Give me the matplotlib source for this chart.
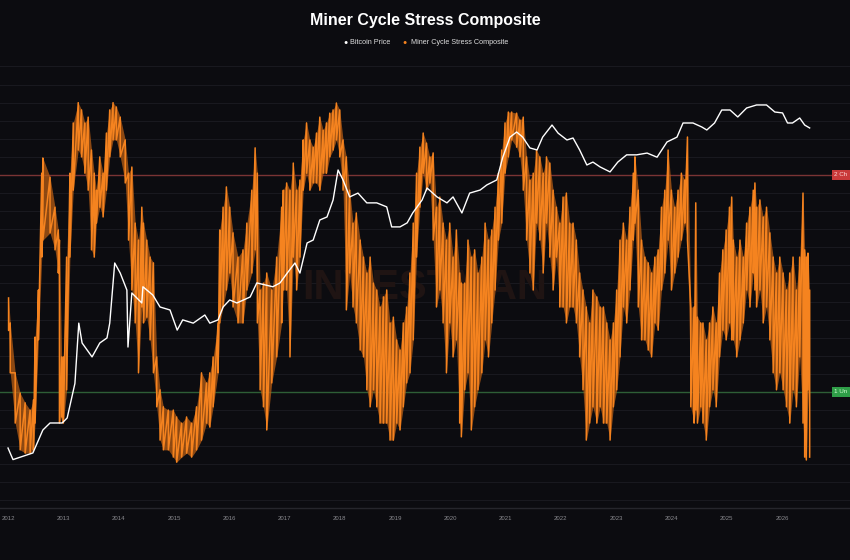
import matplotlib.pyplot as plt
import numpy as np

plt.rcParams['font.family'] = ['Liberation Sans', 'DejaVu Sans']

# 综合指标 (0-100)，每个采样点读取上沿和下沿
comp_t = [2012.01, 2012.04, 2012.13, 2012.22, 2012.31, 2012.40, 2012.46, 2012.49, 2012.55, 2012.61,
          2012.63, 2012.76, 2012.85, 2012.91, 2012.93, 2012.97, 2013.00, 2013.06, 2013.12, 2013.18,
          2013.27, 2013.33, 2013.39, 2013.45, 2013.51, 2013.56, 2013.60, 2013.66, 2013.72, 2013.78,
          2013.84, 2013.90, 2013.96, 2014.03, 2014.12, 2014.18, 2014.24, 2014.30, 2014.36, 2014.42,
          2014.45, 2014.51, 2014.57, 2014.63, 2014.69, 2014.75, 2014.81, 2014.90, 2014.99, 2015.05,
          2015.14, 2015.23, 2015.32, 2015.41, 2015.50, 2015.59, 2015.65, 2015.71, 2015.80, 2015.83,
          2015.89, 2015.95, 2016.01, 2016.07, 2016.16, 2016.25, 2016.32, 2016.41, 2016.47, 2016.51,
          2016.56, 2016.62, 2016.68, 2016.77, 2016.86, 2016.95, 2016.98, 2017.04, 2017.10, 2017.16,
          2017.22, 2017.28, 2017.34, 2017.40, 2017.46, 2017.52, 2017.58, 2017.64, 2017.70, 2017.76,
          2017.82, 2017.88, 2017.94, 2018.00, 2018.06, 2018.12, 2018.18, 2018.24, 2018.30, 2018.37,
          2018.43, 2018.49, 2018.55, 2018.61, 2018.67, 2018.73, 2018.79, 2018.85, 2018.91, 2018.97,
          2019.03, 2019.09, 2019.15, 2019.21, 2019.27, 2019.33, 2019.39, 2019.45, 2019.51, 2019.57,
          2019.63, 2019.69, 2019.75, 2019.81, 2019.87, 2019.93, 2019.99, 2020.05, 2020.11, 2020.17,
          2020.20, 2020.26, 2020.32, 2020.38, 2020.44, 2020.50, 2020.57, 2020.63, 2020.69, 2020.75,
          2020.81, 2020.87, 2020.93, 2020.99, 2021.05, 2021.11, 2021.20, 2021.26, 2021.32, 2021.38,
          2021.44, 2021.50, 2021.56, 2021.62, 2021.68, 2021.74, 2021.80, 2021.86, 2021.92, 2021.98,
          2022.04, 2022.10, 2022.16, 2022.22, 2022.28, 2022.34, 2022.40, 2022.46, 2022.52, 2022.58,
          2022.65, 2022.71, 2022.77, 2022.83, 2022.89, 2022.95, 2023.01, 2023.07, 2023.13, 2023.19,
          2023.25, 2023.31, 2023.34, 2023.40, 2023.46, 2023.52, 2023.58, 2023.64, 2023.70, 2023.76,
          2023.82, 2023.88, 2023.94, 2024.00, 2024.06, 2024.12, 2024.18, 2024.24, 2024.29, 2024.35,
          2024.41, 2024.44, 2024.47, 2024.53, 2024.57, 2024.63, 2024.69, 2024.75, 2024.81, 2024.87,
          2024.93, 2024.99, 2025.05, 2025.09, 2025.12, 2025.18, 2025.24, 2025.30, 2025.36, 2025.42,
          2025.48, 2025.51, 2025.54, 2025.60, 2025.66, 2025.72, 2025.78, 2025.84, 2025.90, 2025.96,
          2026.02, 2026.08, 2026.14, 2026.20, 2026.26, 2026.32, 2026.38, 2026.41, 2026.44, 2026.47,
          2026.50]
comp_hi = [46, 39.1, 25.3, 19.7, 17, 15, 17.8, 35.2, 48.2, 80.5,
           84.7, 79.4, 71.1, 64.8, 62, 29.7, 29.7, 57.3, 80.5, 94.4,
           100, 98, 94.4, 96, 86.9, 80.5, 75.8, 85, 80.5, 91.6,
           98, 100, 98.8, 96, 89.7, 80.5, 82.2, 66.7, 62, 71.1,
           66.7, 62, 57.3, 55.7, 29.7, 20.6, 15.9, 15, 15, 13.1,
           11.4, 13.1, 11.4, 15.9, 25.3, 22.5, 25.3, 29.7, 39.1, 64.8,
           71.1, 76.7, 71.1, 64, 57.3, 59.3, 66.7, 75.8, 87.5, 80.5,
           48.2, 50.1, 52.9, 48.2, 57.3, 71.1, 75.8, 77.8, 75.8, 83.3,
           75.8, 78.6, 89.7, 94.4, 89.7, 87.7, 91.6, 96, 92.4, 94.4,
           97.1, 98, 99.9, 98, 89.7, 85, 75.8, 66.7, 69.5, 62,
           57.3, 52.9, 57.3, 50.1, 48.2, 43.5, 46.3, 48.2, 39.1, 40.7,
           34.4, 31.6, 39.1, 43.5, 52.9, 66.7, 80.5, 87.7, 91.6, 88.8,
           85, 86.1, 71.1, 73.9, 66.7, 62, 66.7, 57.3, 64.8, 52.9,
           50.1, 50.1, 62, 57.3, 59.3, 52.9, 57.3, 66.7, 62, 64.8,
           71.1, 80.5, 86.9, 94.4, 97.4, 97.4, 97.1, 95.2, 96, 85,
           78.6, 80.5, 86.9, 85, 80.5, 85, 83.3, 75.8, 71.1, 66.7,
           73.9, 75, 66.7, 66.7, 62, 52.9, 48.2, 43.5, 39.1, 48.2,
           46.3, 43.5, 43.5, 39.1, 34.4, 39.1, 48.2, 62, 66.7, 62,
           71.1, 80.5, 85, 75.8, 62, 57.3, 55.7, 52.9, 57.3, 59.3,
           71.1, 75.8, 86.9, 75.8, 71.1, 75.8, 80.5, 78.6, 90.5, 43.5,
           43.5, 72.3, 40.7, 39.1, 39.1, 34.4, 39.1, 43.5, 39.1, 52.9,
           59.3, 64.8, 71.1, 73.9, 62, 57.3, 62, 57.3, 66.7, 71.1,
           75.8, 77.8, 71.1, 73.1, 68.4, 71.1, 64, 57.3, 52.9, 57.3,
           52.9, 48.2, 52.9, 57.3, 48.2, 57.3, 75, 59.3, 57.3, 58.4,
           48.2]
comp_lo = [37, 25.3, 11.4, 4, 3.1, 3.1, 4, 11.4, 34.4, 57.3,
           62, 64, 59.3, 52.9, 11.4, 13.1, 11.4, 20.6, 57.3, 75.8,
           86.9, 85, 80.5, 75.8, 59.3, 57.3, 66.7, 71.1, 68.4, 75.8,
           85, 89.7, 89.7, 85, 77.8, 62, 48.2, 39.1, 25.3, 43.5,
           39.1, 40.7, 34.4, 25.3, 15.9, 6.7, 4, 4, 2, 0.6,
           2, 3.1, 2, 4, 6.7, 11.4, 10.3, 15.9, 25.3, 39.1,
           43.5, 48.2, 52.9, 43.5, 39.1, 39.1, 48.2, 52.9, 59.3, 39.1,
           20.6, 15.9, 9.5, 22.5, 29.7, 39.1, 48.2, 48.2, 29.7, 57.3,
           48.2, 57.3, 75.8, 80.5, 75.8, 77.8, 77.8, 75.8, 80.5, 80.5,
           85, 86.9, 89.7, 85, 75.8, 42.7, 52.9, 43.5, 39.1, 31.6,
           29.7, 20.6, 15.9, 20.6, 15.9, 11.4, 11.4, 11.4, 6.7, 6.7,
           11.4, 9.5, 15.9, 22.5, 25.3, 34.4, 57.3, 71.1, 80.5, 75.8,
           77.8, 62, 43.5, 48.2, 39.1, 25.3, 39.1, 29.7, 34.4, 11.4,
           7.6, 20.6, 25.3, 9.5, 15.9, 20.6, 25.3, 34.4, 29.7, 39.1,
           48.2, 62, 66.7, 80.5, 85, 89.7, 87.7, 85, 75.8, 62,
           52.9, 48.2, 66.7, 62, 52.9, 66.7, 57.3, 48.2, 57.3, 43.5,
           43.5, 39.1, 43.5, 43.5, 39.1, 29.7, 20.6, 6.7, 11.4, 15.9,
           11.4, 15.9, 11.4, 11.4, 6.7, 15.9, 20.6, 29.7, 43.5, 39.1,
           48.2, 62, 66.7, 43.5, 34.4, 34.4, 31.6, 29.7, 39.1, 37.1,
           48.2, 52.9, 62, 48.2, 52.9, 57.3, 62, 66.7, 62, 15.9,
           11.4, 15, 11.4, 15.9, 11.4, 6.7, 15.9, 20.6, 15.9, 29.7,
           37.1, 34.4, 39.1, 34.4, 34.4, 29.7, 34.4, 39.1, 48.2, 43.5,
           52.9, 48.2, 43.5, 48.2, 39.1, 43.5, 34.4, 25.3, 20.6, 25.3,
           20.6, 15.9, 11.4, 20.6, 15.9, 29.7, 11.4, 2, 1.2, 20.6,
           2]

# 比特币价格 (美元)
btc_t = [2012.00, 2012.09, 2012.45, 2012.63, 2012.76, 2012.98, 2013.07, 2013.21, 2013.28, 2013.34,
         2013.52, 2013.66, 2013.79, 2013.84, 2013.93, 2014.03, 2014.15, 2014.17, 2014.24, 2014.42,
         2014.44, 2014.62, 2014.75, 2014.93, 2015.06, 2015.16, 2015.35, 2015.56, 2015.65, 2015.80,
         2015.89, 2016.01, 2016.14, 2016.38, 2016.50, 2016.79, 2016.92, 2017.05, 2017.19, 2017.28,
         2017.41, 2017.52, 2017.64, 2017.77, 2017.88, 2017.97, 2018.06, 2018.18, 2018.33, 2018.49,
         2018.67, 2018.85, 2018.94, 2019.09, 2019.22, 2019.32, 2019.49, 2019.58, 2019.76, 2019.94,
         2020.05, 2020.21, 2020.35, 2020.54, 2020.66, 2020.84, 2020.95, 2021.08, 2021.20, 2021.31,
         2021.44, 2021.57, 2021.67, 2021.84, 2021.95, 2022.11, 2022.22, 2022.34, 2022.47, 2022.58,
         2022.71, 2022.89, 2023.03, 2023.19, 2023.37, 2023.56, 2023.74, 2023.92, 2024.10, 2024.21,
         2024.39, 2024.55, 2024.64, 2024.78, 2024.91, 2025.06, 2025.20, 2025.36, 2025.54, 2025.72,
         2025.87, 2026.01, 2026.10, 2026.19, 2026.32, 2026.41, 2026.50]
btc_price = [5.3, 3.8, 4.6, 8.9, 10.9, 10.9, 12.6, 34, 193, 109,
             73, 109, 126, 193, 1090, 815, 500, 97, 460, 345,
             550, 433, 307, 282, 158, 212, 193, 244, 193, 212,
             307, 376, 345, 410, 614, 550, 614, 815, 1090, 815,
             1940, 2110, 3760, 4100, 6680, 15850, 11900, 7300, 8150, 6150,
             6150, 5480, 3080, 3080, 3460, 4600, 6680, 9440, 7300, 6150,
             7300, 4600, 8150, 8900, 10300, 11900, 22900, 40800, 47300, 40800,
             29900, 28200, 40800, 57800, 45800, 37600, 39800, 28200, 18300, 19900,
             17300, 15000, 19900, 24500, 24500, 25800, 22900, 35500, 40800, 61300,
             61300, 54600, 50100, 61300, 89100, 89100, 72900, 94400, 103000, 103000,
             84100, 81900, 61300, 61300, 70800, 57800, 53100]

year_ticks = list(range(2012, 2027))
hi_line = 80
lo_line = 20

bg = '#0c0c10'
orange = '#f5831f'

fig = plt.figure(figsize=(8.5, 5.6), dpi=100, facecolor=bg)
ax = fig.add_axes([0, 0.0929, 1, 0.8])
ax.set_facecolor(bg)

# 橙色带：半透明填充上下沿之间，再叠加锯齿线做出纹理
ax.fill_between(comp_t, comp_lo, comp_hi, color='#b85d14', alpha=0.75, lw=0, zorder=3)
zz_t = np.column_stack([comp_t, comp_t]).ravel()
zz_v = np.column_stack([comp_hi, comp_lo]).ravel()
ax.plot(zz_t, zz_v, color=orange, lw=1.1, zorder=3)

ax.axhline(hi_line, color='#7a3434', lw=1.0, zorder=2)
ax.axhline(lo_line, color='#2e5e36', lw=1.0, zorder=2)

ax.set_xlim(2011.855, 2027.23)
ax.set_ylim(-12.07, 111.8)
ax.set_yticks(np.arange(-10, 111, 5))
ax.yaxis.grid(True, color='#19191f', lw=0.8)
ax.set_axisbelow(True)
ax.tick_params(axis='y', length=0, labelleft=False)
ax.set_xticks(year_ticks)
ax.set_xticklabels([str(y) for y in year_ticks])
ax.tick_params(axis='x', length=0, colors='#8a8a8f', labelsize=4.3, pad=6)
for s in ['top', 'left', 'right']:
    ax.spines[s].set_visible(False)
ax.spines['bottom'].set_color('#26262c')
ax.spines['bottom'].set_linewidth(1.0)

# 水印
ax.text(0.5, 0.49, 'INVESTMAN', transform=ax.transAxes, ha='center', va='center',
        fontsize=30, fontweight='bold', color='#1f1413', zorder=1)

# 右侧阈值标签
ax.text(0.997, hi_line, '2 Ch', transform=ax.get_yaxis_transform(), fontsize=4.5,
        color='#ffd6d6', va='center', ha='right',
        bbox=dict(boxstyle='square,pad=0.35', fc='#c93a3a', ec='none'), clip_on=False)
ax.text(0.997, lo_line, '1 Un', transform=ax.get_yaxis_transform(), fontsize=4.5,
        color='#d6ffd6', va='center', ha='right',
        bbox=dict(boxstyle='square,pad=0.35', fc='#2f9e48', ec='none'), clip_on=False)

# 比特币价格，对数坐标
ax2 = ax.twinx()
ax2.set_yscale('log')
ax2.plot(btc_t, btc_price, color='white', lw=1.0, zorder=4)
ax2.set_ylim(0.944, 3.76e5)
ax2.set_xlim(2011.855, 2027.23)
ax2.axis('off')

fig.text(0.5, 1 - 20 / 560, 'Miner Cycle Stress Composite', ha='center', va='center',
         fontsize=11.5, fontweight='bold', color='white')
fig.text(0.406, 1 - 42 / 560, '\u25cf', ha='center', va='center', fontsize=5, color='white')
fig.text(0.412, 1 - 42 / 560, 'Bitcoin Price', ha='left', va='center', fontsize=5.2, color='#dddddd')
fig.text(0.476, 1 - 42 / 560, '\u25cf', ha='center', va='center', fontsize=5, color=orange)
fig.text(0.483, 1 - 42 / 560, 'Miner Cycle Stress Composite', ha='left', va='center',
         fontsize=5.2, color='#dddddd')

fig.savefig('out.png', dpi=100, facecolor=bg)
